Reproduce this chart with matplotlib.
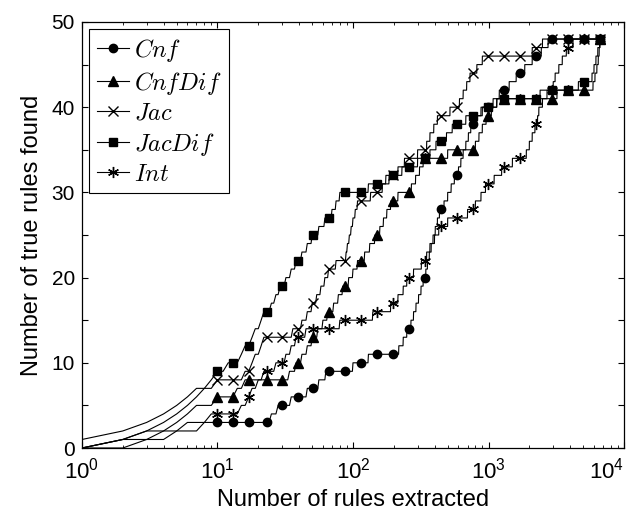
import numpy as np
import matplotlib
matplotlib.use('Agg')
from matplotlib import pyplot as plt
from matplotlib.lines import Line2D

plt.rcParams['font.family'] = ['Liberation Sans', 'DejaVu Sans']
plt.rcParams['mathtext.fontset'] = 'custom'
plt.rcParams['mathtext.rm'] = 'Liberation Sans'
plt.rcParams['mathtext.it'] = 'Liberation Sans:italic'

# total number of rules extracted (x runs 1..N)
N_RULES = 6650

# rank at which each true rule was found (48 true rules per method)
cnf_hits = [2, 5, 6, 25, 28, 35, 46, 56, 63, 100, 130,
            218, 235, 250, 268, 280, 292, 305, 318, 330,
            345, 355, 366, 378, 390, 405, 420, 435,
            470, 500, 530, 560, 600, 625, 650, 680, 710, 740,
            820, 900, 1080, 1200, 1420, 1600, 1850, 2100, 2450, 2750]
cnfdif_hits = [3, 4, 5, 6, 7, 10, 14, 16, 34, 38, 42, 46, 50, 55, 60, 65,
               72, 78, 84, 93, 100, 108, 122, 133, 145, 158, 168, 178, 190,
               215, 270, 290, 310, 330, 500, 800, 850, 900, 960, 1050, 1150,
               3200, 5900, 6100, 6300, 6450, 6550, 6650]
jac_hits = [2, 3, 4, 5, 6, 7, 8, 10, 16, 18, 19, 21, 22, 36, 42, 46, 50,
            54, 58, 62, 66, 75, 89, 91, 94, 97, 100, 104, 108, 135, 165, 185,
            215, 240, 300, 350, 370, 395, 420, 520, 610, 650, 690, 730,
            820, 900, 2100, 2500]
jacdif_hits = [1, 2, 3, 4, 5, 6, 7, 9, 10, 12, 15, 16, 18, 19, 21, 22,
               25, 27, 29, 32, 35, 38, 42, 46, 50, 56, 62, 70, 75, 80,
               130, 175, 230, 300, 370, 410, 490, 540, 680, 880, 1150, 2400,
               4600, 5800, 6000, 6200, 6400, 6600]
int_hits = [2, 3, 8, 9, 15, 17, 18, 20, 22, 27, 32, 35, 38, 45, 80, 140, 190,
            215, 235, 250, 280, 320, 350, 370, 400, 430, 500, 700, 800, 880, 950,
            1100, 1250, 1500, 1900, 2000, 2100, 2200, 2300, 2350, 2500, 2700,
            3000, 3100, 3300, 3500, 3750, 4200]

labels = ['Cnf', 'CnfDif', 'Jac', 'JacDif', 'Int']
hits_all = [cnf_hits, cnfdif_hits, jac_hits, jacdif_hits, int_hits]
markers = ['o', '^', 'x', 's', (6, 2, 0)]
msizes = [6, 6.5, 7, 5.5, 8]

xtick_vals = [1, 10, 100, 1000, 10000]
xtick_text = [r'$10^{0}$', r'$10^{1}$', r'$10^{2}$', r'$10^{3}$', r'$10^{4}$']


def fcount(hits, x):
    """number of true rules found among the first x rules"""
    return np.searchsorted(np.sort(hits), x, side='right')


fig = plt.figure(figsize=(6.33, 5.14), dpi=100)
ax = fig.add_axes([0.1295, 0.1284, 0.8563, 0.8288])

x = np.arange(1, N_RULES + 1)
mark_idx = list(np.round(np.geomspace(10, N_RULES, 25)).astype(int) - 1)

handles = []
for lab, hits, mk, ms in zip(labels, hits_all, markers, msizes):
    y = fcount(hits, x)
    ax.plot(x, y, color='k', lw=0.8, marker=mk, markersize=ms,
            markevery=mark_idx, markerfacecolor='k', markeredgecolor='k',
            markeredgewidth=1.0)
    handles.append(Line2D([], [], color='k', lw=0.8, marker=mk, markersize=ms,
                          markerfacecolor='k', markeredgecolor='k',
                          markeredgewidth=1.0))

ax.set_xscale('log')
ax.set_xlim(1, 1e4)
ax.set_ylim(0, 50)
ax.set_xticks(xtick_vals)
ax.set_xticklabels(xtick_text)
ax.set_yticks(np.arange(0, 51, 5))
ax.set_yticklabels([str(v) if v % 10 == 0 else '' for v in range(0, 51, 5)])
ax.tick_params(which='both', direction='in', top=True, right=True)
ax.tick_params(axis='y', labelsize=15, pad=5)
ax.tick_params(axis='x', labelsize=16, pad=7)
ax.tick_params(which='major', length=4.5, width=0.8)
ax.tick_params(which='minor', length=2.5, width=0.6)
ax.get_xticklabels()[-1].set_horizontalalignment('right')
for s in ax.spines.values():
    s.set_linewidth(0.9)

ax.set_xlabel('Number of rules extracted', fontsize=17, labelpad=4)
ax.set_ylabel('Number of true rules found', fontsize=17, labelpad=6)

leg = ax.legend(handles, [r'$' + l + '$' for l in labels], loc='upper left',
                bbox_to_anchor=(0, 1), borderaxespad=0.3, fontsize=17.5,
                handlelength=1.35, handletextpad=0.2, labelspacing=0.25,
                borderpad=0.3, fancybox=False, framealpha=1, edgecolor='k')
leg.get_frame().set_linewidth(0.8)
for t in leg.get_texts():
    t.set_math_fontfamily('cm')

plt.savefig('out.png', dpi=100)
